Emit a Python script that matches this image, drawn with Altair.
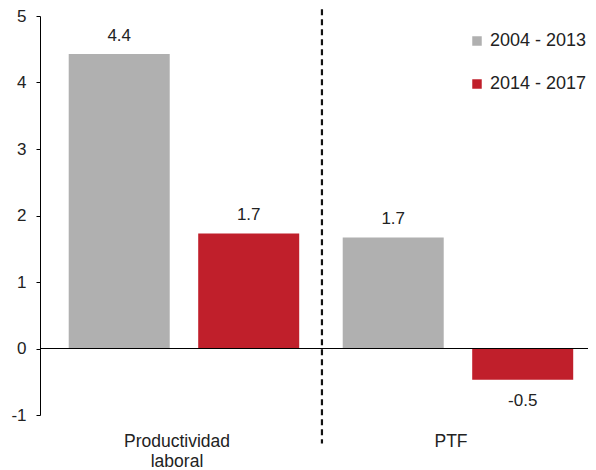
import altair as alt
import pandas as pd

categories = ["Productividad laboral", "Productividad laboral", "PTF", "PTF"]
periods = ["2004 - 2013", "2014 - 2017", "2004 - 2013", "2014 - 2017"]
values = [4.43, 1.73, 1.67, -0.47]

period_order = ["2004 - 2013", "2014 - 2017"]
period_colors = ["#b0b0b0", "#c01f2b"]
cat_order = ["Productividad laboral", "PTF"]

df = pd.DataFrame({"cat": categories, "period": periods, "value": values})
df["label"] = [f"{v:.1f}" for v in values]

FONT = "Liberation Sans"
TXT = "#222222"
W, H = 548, 399

xscale = alt.Scale(paddingInner=0, paddingOuter=0)
offscale = alt.Scale(paddingInner=0.22, paddingOuter=0.168, align=0.66)

xenc = alt.X("cat:N", sort=cat_order, title=None, scale=xscale,
             axis=alt.Axis(domain=False, ticks=False, labelAngle=0, labelFontSize=17.5,
                           labelFont=FONT, labelColor=TXT, labelPadding=17,
                           labelLineHeight=20,
                           labelExpr="datum.value == 'Productividad laboral' ? ['Productividad', 'laboral'] : datum.value"))
xoff = alt.XOffset("period:N", sort=period_order, scale=offscale)
yenc = alt.Y("value:Q", title=None,
             scale=alt.Scale(domain=[-1, 5], nice=False, zero=False),
             axis=alt.Axis(values=[-1, 0, 1, 2, 3, 4, 5], labelExpr="'' + datum.value",
                           grid=False, domainColor="#000000", tickColor="#000000", tickSize=4,
                           labelFontSize=17, labelFont=FONT, labelColor=TXT,
                           labelPadding=10, domainWidth=1))

bars = alt.Chart(df).mark_bar().encode(
    x=xenc, xOffset=xoff, y=yenc,
    color=alt.Color("period:N", sort=period_order,
                    scale=alt.Scale(domain=period_order, range=period_colors),
                    legend=alt.Legend(title=None, orient="none", legendX=428, legendY=16,
                                      symbolType="square", symbolSize=90, symbolStrokeWidth=0,
                                      labelFontSize=18, labelFont=FONT, labelColor=TXT,
                                      rowPadding=25, labelOffset=4)),
)

pos_labels = alt.Chart(df).transform_filter("datum.value >= 0").mark_text(
    dy=-18, fontSize=17, font=FONT, color=TXT).encode(
    x=alt.X("cat:N", sort=cat_order),
    xOffset=alt.XOffset("period:N", sort=period_order, scale=offscale),
    y="value:Q", text="label:N")

neg_labels = alt.Chart(df).transform_filter("datum.value < 0").mark_text(
    dy=21, fontSize=17, font=FONT, color=TXT).encode(
    x=alt.X("cat:N", sort=cat_order),
    xOffset=alt.XOffset("period:N", sort=period_order, scale=offscale),
    y="value:Q", text="label:N")

zero = alt.Chart(pd.DataFrame({"y": [0]})).mark_rule(color="#000000", strokeWidth=1).encode(y="y:Q")

sep = alt.Chart(pd.DataFrame({"cat": ["PTF"], "top": [5.1], "bot": [-1.43]})).mark_rule(
    color="#111111", strokeWidth=2.2, strokeDash=[6, 4], clip=False).encode(
    x=alt.X("cat:N", sort=cat_order, bandPosition=0.029), y="top:Q", y2="bot:Q")

chart = alt.layer(bars, zero, sep, pos_labels, neg_labels).properties(
    width=W, height=H,
    autosize=alt.AutoSizeParams(type="none"),
    padding={"left": 32, "top": 8, "right": 0, "bottom": 54},
).configure_view(stroke=None)

chart.save("out.html", embed_options={"renderer": "svg", "actions": False})
